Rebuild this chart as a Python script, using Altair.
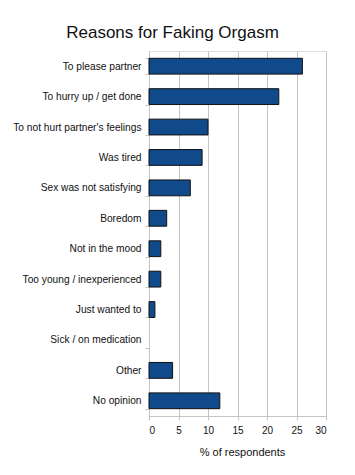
import altair as alt
import pandas as pd

reasons = [
    "To please partner",
    "To hurry up / get done",
    "To not hurt partner's feelings",
    "Was tired",
    "Sex was not satisfying",
    "Boredom",
    "Not in the mood",
    "Too young / inexperienced",
    "Just wanted to",
    "Sick / on medication",
    "Other",
    "No opinion",
]
percent = [26, 22, 10, 9, 7, 3, 2, 2, 1, 0, 4, 12]
x_ticks = [0, 5, 10, 15, 20, 25, 30]

df = pd.DataFrame({"reason": reasons, "pct": percent})

FONT = "Liberation Sans"

chart = (
    alt.Chart(df)
    .mark_bar(color="#114a8b", stroke="#111111")
    .encode(
        x=alt.X(
            "pct:Q",
            scale=alt.Scale(domain=[0, 30], nice=False),
            axis=alt.Axis(
                values=x_ticks,
                title="% of respondents",
                grid=True,
                gridColor="#c4c4c4",
                domainColor="#c4c4c4",
                tickColor="#c4c4c4",
                tickSize=4,
                labelFont=FONT,
                labelFontSize=10,
                labelColor="#111111",
                labelPadding=5,
                titleFont=FONT,
                titleFontSize=11,
                titleFontWeight="normal",
                titleColor="#111111",
                titlePadding=11,
                titleX=93,
            ),
        ),
        y=alt.Y(
            "reason:N",
            sort=reasons,
            scale=alt.Scale(paddingInner=0.48, paddingOuter=0.24),
            axis=alt.Axis(
                title=None,
                tickBand="extent",
                domainColor="#c4c4c4",
                tickColor="#c4c4c4",
                tickSize=4,
                labelFont=FONT,
                labelFontSize=10.2,
                labelColor="#111111",
                labelPadding=4,
                labelLimit=300,
            ),
        ),
        strokeWidth=alt.condition("datum.pct > 0", alt.value(1), alt.value(0)),
    )
    .properties(
        width=177,
        height=365,
        autosize=alt.AutoSizeParams(type="none"),
        padding={"left": 149, "top": 51, "right": 29, "bottom": 59},
        title=alt.TitleParams(
            "Reasons for Faking Orgasm",
            font=FONT,
            fontSize=17,
            fontWeight="normal",
            color="#111111",
            anchor="middle",
            dx=-65,
            dy=20,
            baseline="alphabetic",
            offset=11,
        ),
    )
    .configure_view(stroke="#c4c4c4")
    .configure(background="white")
)

chart.save("out.html", embed_options={"renderer": "svg", "actions": False})
